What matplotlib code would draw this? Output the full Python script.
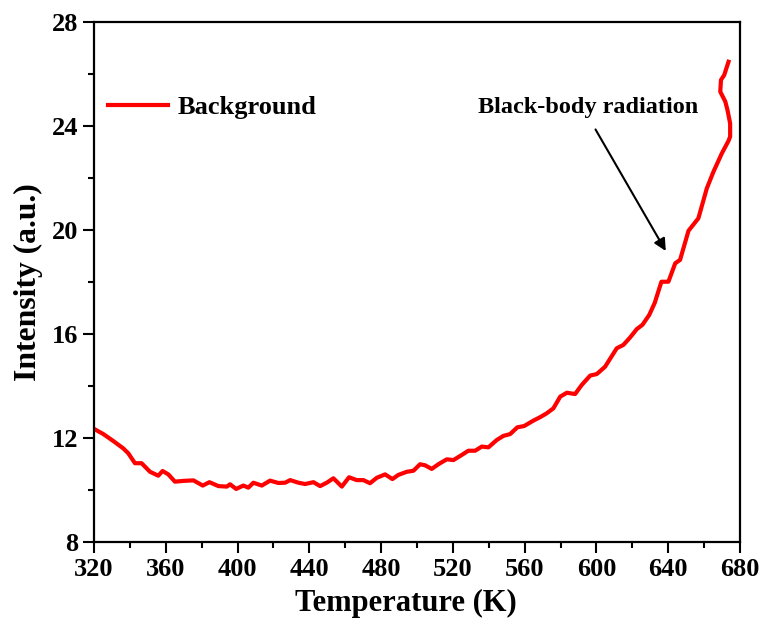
import matplotlib
matplotlib.use("Agg")
import matplotlib.pyplot as plt
from matplotlib.ticker import MultipleLocator

plt.rcParams['font.family'] = 'Liberation Serif'
plt.rcParams['font.weight'] = 'bold'

# background curve (temperature in K, intensity in a.u.)
temp = [320, 325.2, 330.8, 336.3, 339.1, 342.8, 346.5, 351.2, 355.8, 358.2,
        361.4, 365.1, 369.8, 375.4, 380.6, 384.3, 389.3, 394.0, 395.8, 399.2,
        403.2, 406.0, 408.8, 413.5, 418.1, 422.7, 426.5, 429.3, 433.9, 437.6,
        442.3, 446.0, 449.7, 453.4, 458.1, 462.1, 466.4, 470.1, 473.8, 477.6,
        482.2, 486.3, 489.6, 494.3, 498.0, 501.7, 504.5, 508.2, 511.9, 516.6,
        520.3, 525.0, 528.6, 532.4, 536.1, 539.8, 544.4, 548.1, 551.9, 555.9,
        559.7, 564.9, 568.6, 572.3, 576.0, 579.8, 583.5, 588.1, 591.8, 596.5,
        600.2, 604.8, 611.3, 615.0, 618.8, 622.5, 625.6, 629.4, 632.5, 636.2,
        640.1, 643.9, 646.6, 651.3, 656.8, 661.5, 665.2, 669.9, 673.6, 674.5,
        674.5, 673.0, 671.8, 669.0, 669.4, 671.2, 673.6]
intensity = [12.35, 12.15, 11.88, 11.6, 11.41, 11.03, 11.03, 10.7, 10.55, 10.73,
             10.6, 10.32, 10.35, 10.37, 10.17, 10.3, 10.15, 10.13, 10.22, 10.04,
             10.17, 10.09, 10.28, 10.17, 10.36, 10.27, 10.28, 10.38, 10.28, 10.23,
             10.3, 10.15, 10.28, 10.45, 10.13, 10.49, 10.38, 10.38, 10.26, 10.47,
             10.6, 10.42, 10.58, 10.7, 10.74, 10.99, 10.95, 10.81, 10.99, 11.18,
             11.15, 11.35, 11.51, 11.51, 11.67, 11.64, 11.92, 12.08, 12.15, 12.41,
             12.46, 12.67, 12.8, 12.95, 13.14, 13.59, 13.74, 13.69, 14.04, 14.4,
             14.46, 14.74, 15.45, 15.58, 15.87, 16.19, 16.35, 16.73, 17.2, 18.01,
             18.01, 18.72, 18.85, 19.97, 20.45, 21.6, 22.24, 22.95, 23.43, 23.59,
             24.1, 24.62, 24.94, 25.32, 25.77, 25.96, 26.47]

fig = plt.figure(figsize=(7.67, 6.30), dpi=100)
ax = fig.add_axes([0.1226, 0.1397, 0.8422, 0.8254])

ax.plot(temp, intensity, color='#ff0000', lw=3.0, label='Background')

ax.set_xlim(320, 680)
ax.set_ylim(8, 28)
ax.xaxis.set_major_locator(MultipleLocator(40))
ax.xaxis.set_minor_locator(MultipleLocator(20))
ax.yaxis.set_major_locator(MultipleLocator(4))
ax.yaxis.set_minor_locator(MultipleLocator(2))
ax.tick_params(which='major', direction='out', length=8, width=1.5, labelsize=19)
ax.tick_params(which='minor', direction='out', length=4, width=1.5)
for s in ax.spines.values():
    s.set_linewidth(1.6)

ax.set_xlabel('Temperature (K)', fontsize=22, fontweight='bold', labelpad=6)
ax.xaxis.label.set_x(0.483)
ax.set_ylabel('Intensity (a.u.)', fontsize=22.8, fontweight='bold', labelpad=6)

ax.legend(loc='upper left', bbox_to_anchor=(-0.0155, 0.9035), frameon=False,
          fontsize=19, handlelength=2.3, handletextpad=0.35)

ax.annotate('', xy=(639.4, 19.1), xytext=(598.7, 23.96),
            arrowprops=dict(arrowstyle='-|>', color='black', lw=1.5, mutation_scale=18))
ax.text(595.4, 24.7, 'Black-body radiation', ha='center', va='center',
        fontsize=17.5, fontweight='bold')

fig.savefig('out.png', dpi=100)
